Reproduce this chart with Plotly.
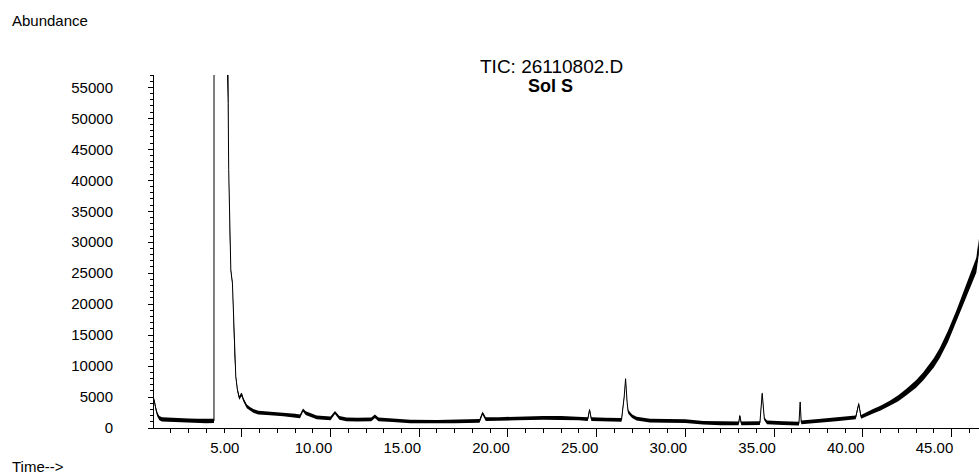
import plotly.graph_objects as go

# Retention time (min), abundance (centre of the noisy trace) and noise half-width
times = [0.05, 0.10, 0.17, 0.25, 0.35, 0.50, 1.00, 1.50, 2.00, 2.50, 3.00, 3.43,
         3.44, 4.17, 4.19, 4.23, 4.26, 4.32, 4.38, 4.47, 4.53, 4.58, 4.66, 4.75,
         4.86, 4.95, 5.00, 5.09, 5.28, 5.46, 5.65, 5.93, 6.40, 7.34, 8.00, 8.28,
         8.45, 8.60, 9.22, 10.00, 10.25, 10.50, 10.90, 11.50, 12.30, 12.50, 12.70,
         13.50, 14.50, 16.00, 17.00, 18.40, 18.57, 18.75, 19.50, 20.50, 22.00,
         23.00, 24.00, 24.50, 24.60, 24.70, 25.50, 26.40, 26.55, 26.63, 26.72,
         26.78, 27.00, 27.25, 28.00, 29.00, 30.00, 31.00, 32.00, 33.00, 33.07,
         33.15, 34.20, 34.33, 34.45, 34.60, 35.50, 36.40, 36.47, 36.53, 37.50,
         38.50, 39.60, 39.77, 39.90, 40.58, 41.00, 41.52, 42.00, 42.46, 43.00,
         43.40, 44.00, 44.34, 44.80, 45.28, 45.84, 46.40, 46.54]
abundance = [4600, 3700, 2900, 2100, 1600, 1400, 1300, 1250, 1200, 1150, 1100, 1150,
             200000, 200000, 57500, 52400, 41700, 30900, 25500, 23400, 17500, 12100, 8300, 6200,
             4840, 5300, 5400, 4560, 3480, 3100, 2750, 2500, 2400, 2200, 2000, 1870,
             2900, 2400, 1700, 1550, 2500, 1650, 1400, 1350, 1400, 1900, 1400,
             1250, 1050, 1000, 1050, 1150, 2400, 1450, 1450, 1550, 1650,
             1650, 1550, 1450, 2950, 1450, 1350, 1300, 5000, 7950, 4000,
             2600, 1900, 1500, 1200, 1150, 1100, 850, 750, 750, 1980,
             750, 800, 5600, 1500, 900, 800, 700, 4200, 900, 1150,
             1400, 1700, 3900, 1800, 2700, 3200, 4000, 4800, 5800, 7100,
             8300, 10500, 12100, 14800, 18000, 22300, 26300, 29300]
noise = [280, 320, 340, 340, 340, 340, 340, 340, 340, 340, 340, 340,
         0, 0, 100, 150, 200, 250, 280, 280, 280, 280, 280, 300,
         300, 300, 300, 300, 300, 300, 300, 300, 300, 300, 300, 300,
         250, 300, 300, 300, 250, 300, 300, 300, 300, 300, 300,
         300, 300, 300, 300, 300, 250, 300, 300, 300, 300,
         300, 300, 300, 200, 300, 300, 300, 250, 200, 250,
         300, 300, 300, 300, 300, 300, 300, 300, 300, 200,
         300, 300, 200, 250, 300, 300, 300, 200, 300, 300,
         300, 300, 250, 300, 350, 380, 420, 470, 520, 600,
         650, 750, 800, 900, 1000, 1100, 1200, 1250]

x_tickvals = [5, 10, 15, 20, 25, 30, 35, 40, 45]
x_ticktext = ["5.00", "10.00", "15.00", "20.00", "25.00", "30.00", "35.00", "40.00", "45.00"]
y_tickvals = [0, 5000, 10000, 15000, 20000, 25000, 30000, 35000, 40000, 45000, 50000, 55000]
y_ticktext = [str(v) for v in y_tickvals]

FONT = "Arial, Liberation Sans, sans-serif"

upper = [a + n for a, n in zip(abundance, noise)]
lower = [a - n for a, n in zip(abundance, noise)]

fig = go.Figure()
fig.add_trace(go.Scatter(
    x=times + times[::-1], y=upper + lower[::-1],
    fill="toself", fillcolor="black", line=dict(width=0),
    mode="lines", hoverinfo="skip", showlegend=False))
fig.add_trace(go.Scatter(
    x=times, y=abundance, mode="lines",
    line=dict(color="black", width=1), showlegend=False))

axis_common = dict(showline=True, linecolor="black", linewidth=1, showgrid=False,
                   zeroline=False, ticks="outside", tickcolor="black",
                   tickfont=dict(family=FONT, size=15, color="black"))

fig.update_layout(
    width=979, height=476,
    margin=dict(l=154, r=0, t=75, b=48),
    paper_bgcolor="white", plot_bgcolor="white",
    xaxis=dict(range=[0.05, 46.55], tickmode="array", tickvals=x_tickvals,
               ticktext=x_ticktext, ticklen=8, tickwidth=1,
               ticklabelshift=-17, ticklabelstandoff=-2,
               minor=dict(tickmode="linear", tick0=0, dtick=1, ticklen=4,
                          ticks="outside", tickcolor="black"),
               **axis_common),
    yaxis=dict(range=[0, 57000], tickmode="array", tickvals=y_tickvals,
               ticktext=y_ticktext, ticklen=5, tickwidth=1,
               ticklabelstandoff=32,
               minor=dict(tickmode="linear", tick0=0, dtick=1000, ticklen=3,
                          ticks="outside", tickcolor="black"),
               **axis_common),
    annotations=[
        dict(text="Abundance", xref="paper", yref="paper", x=-0.174, y=1.153,
             xanchor="left", yanchor="middle", showarrow=False,
             font=dict(family=FONT, size=15, color="black")),
        dict(text="Time-->", xref="paper", yref="paper", x=-0.174, y=-0.110,
             xanchor="left", yanchor="middle", showarrow=False,
             font=dict(family=FONT, size=15, color="black")),
        dict(text="TIC: 26110802.D", xref="paper", yref="paper", x=0.4824, y=1.024,
             xanchor="center", yanchor="middle", showarrow=False,
             font=dict(family=FONT, size=19, color="black")),
        dict(text="<b>Sol S</b>", xref="paper", yref="paper", x=0.4812, y=0.970,
             xanchor="center", yanchor="middle", showarrow=False,
             font=dict(family=FONT, size=18, color="black")),
    ],
)

fig.write_html("out.html", config={"displayModeBar": False},
               post_script="document.body.style.margin='0px';")
